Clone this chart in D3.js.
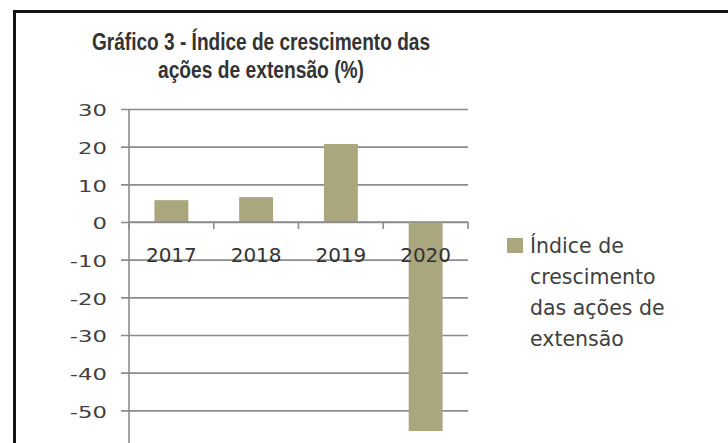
<!DOCTYPE html>
<html>
<head>
<meta charset="utf-8">
<script src="https://cdn.jsdelivr.net/npm/d3@7"></script>
<style>
html,body{margin:0;padding:0;background:#fff;}
svg{display:block;}
</style>
</head>
<body>
<svg id="chart" width="728" height="443"></svg>
<script>
const categories = ["2017", "2018", "2019", "2020"];
const values = [5.8, 6.6, 20.7, -55.5];
const yTicks = [30, 20, 10, 0, -10, -20, -30, -40, -50, -60];
const titleLines = ["Gráfico 3 - Índice de crescimento das", "ações de extensão (%)"];
const legendLines = ["Índice de", "crescimento", "das ações de", "extensão"];

const svg = d3.select("#chart");
const barColor = "#aaa67d";
const gridColor = "#8c8c8c";

const x = d3.scaleBand().domain(categories).range([129, 468]).paddingInner(0.6).paddingOuter(0.3);
const y = d3.scaleLinear().domain([-60, 30]).range([448, 109]);

// frame
svg.append("path").attr("d", "M14.5,443 V11.5 H728").attr("fill", "none")
  .attr("stroke", "#151515").attr("stroke-width", 3);

// title
const title = svg.append("g").attr("font-family", "Liberation Sans, Arial, sans-serif")
  .attr("font-weight", "bold").attr("font-size", 23).attr("fill", "#333").attr("text-anchor", "middle");
const titleW = [338, 206];
const titleY = [50, 78];
titleLines.forEach((t, i) => {
  title.append("text").attr("x", 261).attr("y", titleY[i]).attr("textLength", titleW[i])
    .attr("lengthAdjust", "spacingAndGlyphs").text(t);
});

// y axis with gridlines
const yAxis = d3.axisLeft(y).tickValues(yTicks).tickSize(-(468 - 121)).tickPadding(0).tickFormat(d => String(d));
const yg = svg.append("g").attr("transform", "translate(121,0)").call(yAxis);
yg.select(".domain").remove();
yg.selectAll(".tick line").attr("stroke", gridColor).attr("stroke-width", 1.6);
yg.selectAll(".tick text")
  .attr("font-family", "DejaVu Sans, Verdana, sans-serif").attr("font-size", 16.5)
  .attr("fill", "#404040").attr("x", -14).attr("dy", "0.42em")
  .each(function () {
    const w = this.getComputedTextLength();
    d3.select(this).attr("textLength", w * 1.38).attr("lengthAdjust", "spacingAndGlyphs");
  });

// vertical axis line
svg.append("line").attr("x1", 129).attr("x2", 129).attr("y1", y(30)).attr("y2", 443)
  .attr("stroke", gridColor).attr("stroke-width", 1.6);

// bars
svg.append("g").selectAll("rect").data(categories).join("rect")
  .attr("x", d => x(d))
  .attr("width", x.bandwidth())
  .attr("y", (d, i) => y(Math.max(0, values[i])))
  .attr("height", (d, i) => Math.abs(y(values[i]) - y(0)))
  .attr("fill", barColor);

// category axis at zero
const step = x.step();
const xBounds = [129].concat(categories.map(c => x(c) - x.paddingInner() * step / 2 + step));
const xa = svg.append("g");
xa.append("line").attr("x1", 129).attr("x2", 468).attr("y1", y(0)).attr("y2", y(0))
  .attr("stroke", gridColor).attr("stroke-width", 1.6);
xa.selectAll("line.tk").data(xBounds).join("line").attr("class", "tk")
  .attr("x1", d => d).attr("x2", d => d).attr("y1", y(0)).attr("y2", y(0) + 7)
  .attr("stroke", gridColor).attr("stroke-width", 1.6);
xa.selectAll("text").data(categories).join("text")
  .attr("x", d => x(d) + x.bandwidth() / 2).attr("y", 262)
  .attr("text-anchor", "middle").attr("font-family", "DejaVu Sans, Verdana, sans-serif")
  .attr("font-size", 20).attr("fill", "#333").text(d => d);

// legend
const lg = svg.append("g");
lg.append("rect").attr("x", 507).attr("y", 238).attr("width", 16).attr("height", 15).attr("fill", barColor);
lg.selectAll("text").data(legendLines).join("text")
  .attr("x", 530).attr("y", (d, i) => 253 + i * 31)
  .attr("font-family", "DejaVu Sans, Verdana, sans-serif").attr("font-size", 20.5)
  .attr("fill", "#404040").text(d => d);
</script>
</body>
</html>
